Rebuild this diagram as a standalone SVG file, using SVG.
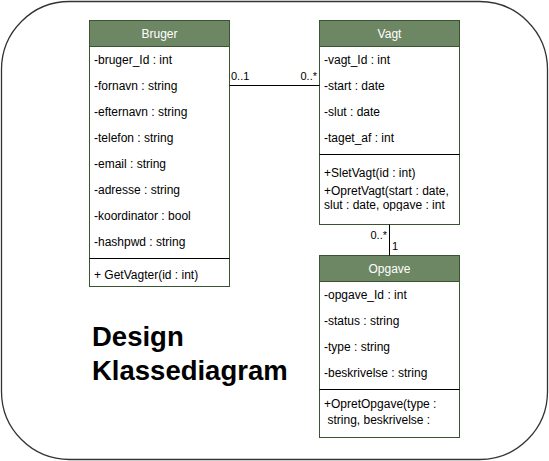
<svg xmlns="http://www.w3.org/2000/svg" width="549" height="461" viewBox="0 0 549 461">
  <style>
    .frame { fill: #ffffff; stroke: #333333; stroke-width: 1.3; }
    .box { fill: #ffffff; stroke: #3a5431; stroke-width: 1; }
    .head { fill: #6d8764; stroke: #3a5431; stroke-width: 1; }
    .sep { stroke: #000000; stroke-width: 1; }
    .title { font-family: "Liberation Sans", Arial, sans-serif; font-size: 12px; fill: #ffffff; text-anchor: middle; }
    .row { font-family: "Liberation Sans", Arial, sans-serif; font-size: 12px; fill: #000000; }
    .lbl { font-family: "Liberation Sans", Arial, sans-serif; font-size: 11px; fill: #000000; }
    .big { font-family: "Liberation Sans", Arial, sans-serif; font-size: 27.5px; font-weight: bold; fill: #000000; }
    .edge { stroke: #000000; stroke-width: 1; fill: none; }
  </style>
  <defs>
    <clipPath id="vagtMethods"><rect x="320" y="156" width="139" height="55"/></clipPath>
  </defs>

  <rect class="frame" x="1.5" y="1.5" width="546" height="458" rx="68" ry="68"/>

  <g id="bruger">
    <rect class="box" x="89.5" y="20.5" width="140" height="266"/>
    <rect class="head" x="89.5" y="20.5" width="140" height="26"/>
    <text class="title" x="159.5" y="38">Bruger</text>
    <text class="row" x="94" y="64">-bruger_Id : int</text>
    <text class="row" x="94" y="90">-fornavn : string</text>
    <text class="row" x="94" y="116">-efternavn : string</text>
    <text class="row" x="94" y="142">-telefon : string</text>
    <text class="row" x="94" y="168">-email : string</text>
    <text class="row" x="94" y="194">-adresse : string</text>
    <text class="row" x="94" y="220">-koordinator : bool</text>
    <text class="row" x="94" y="246">-hashpwd : string</text>
    <line class="sep" x1="89.5" y1="258.5" x2="229.5" y2="258.5"/>
    <text class="row" x="94" y="279">+ GetVagter(id : int)</text>
  </g>

  <g id="vagt">
    <rect class="box" x="319.5" y="20.5" width="140" height="204"/>
    <rect class="head" x="319.5" y="20.5" width="140" height="26"/>
    <text class="title" x="389.5" y="38">Vagt</text>
    <text class="row" x="324" y="64">-vagt_Id : int</text>
    <text class="row" x="324" y="90">-start : date</text>
    <text class="row" x="324" y="116">-slut : date</text>
    <text class="row" x="324" y="142">-taget_af : int</text>
    <line class="sep" x1="319.5" y1="154.5" x2="459.5" y2="154.5"/>
    <g clip-path="url(#vagtMethods)">
      <text class="row" x="324" y="176.5">+SletVagt(id : int)</text>
      <text class="row" x="324" y="195">+OpretVagt(start : date,</text>
      <text class="row" x="324" y="209">slut : date, opgave : int</text>
    </g>
  </g>

  <g id="opgave">
    <rect class="box" x="319.5" y="255.5" width="140" height="182"/>
    <rect class="head" x="319.5" y="255.5" width="140" height="26"/>
    <text class="title" x="389.5" y="273">Opgave</text>
    <text class="row" x="324" y="299">-opgave_Id : int</text>
    <text class="row" x="324" y="325">-status : string</text>
    <text class="row" x="324" y="351">-type : string</text>
    <text class="row" x="324" y="377">-beskrivelse : string</text>
    <line class="sep" x1="319.5" y1="389.5" x2="459.5" y2="389.5"/>
    <text class="row" x="324" y="407.5">+OpretOpgave(type :</text>
    <text class="row" x="327.5" y="423.5">string, beskrivelse :</text>
  </g>

  <g id="connectors">
    <line class="edge" x1="229.5" y1="85.5" x2="319.5" y2="85.5"/>
    <text class="lbl" x="231" y="80">0..1</text>
    <text class="lbl" x="317" y="80" text-anchor="end">0..*</text>
    <line class="edge" x1="389.5" y1="224.5" x2="389.5" y2="255.5"/>
    <text class="lbl" x="387" y="238.5" text-anchor="end">0..*</text>
    <text class="lbl" x="392" y="250">1</text>
  </g>

  <g id="caption">
    <text class="big" x="92" y="346">Design</text>
    <text class="big" x="92" y="380">Klassediagram</text>
  </g>
</svg>
